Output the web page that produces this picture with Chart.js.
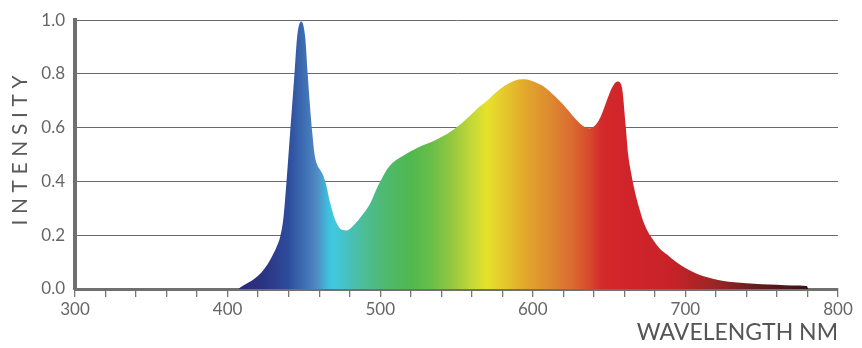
<!DOCTYPE html>
<html>
<head>
<meta charset="utf-8">
<script src="https://cdn.jsdelivr.net/npm/chart.js@4/dist/chart.umd.min.js"></script>
<style>
html,body{margin:0;padding:0;background:#fff;}
#wrap{width:862px;height:348px;position:relative;}
</style>
</head>
<body>
<div id="wrap"><canvas id="c" width="862" height="348"></canvas></div>
<script>
// Wavelength (nm) and relative intensity
const wavelengths = [407,410,414,418,422,426,429,432,434.5,436.5,438.6,441.2,443.8,445.6,448.2,450.8,452.5,454,455.5,457,458.5,460.5,462.5,464.5,467.4,471,475,478,481,487,493.6,497,500,503,506,510,515,521,528,535,541,546,552,557,563,570,576,582,588,593,597,602,608,614,620,626,631,634,637,640,643,645.5,648.9,652,655.4,657.5,658.7,660.9,662.5,664.5,667,669.6,672.5,675.1,678,683,688,694,700,706,712,718,725,732,740,750,760,770,779.5,780.5];
const intensities = [0,0.012,0.025,0.04,0.06,0.09,0.12,0.155,0.195,0.26,0.40,0.60,0.80,0.94,0.995,0.94,0.80,0.68,0.58,0.50,0.465,0.445,0.425,0.39,0.316,0.25,0.22,0.218,0.228,0.266,0.32,0.365,0.40,0.432,0.457,0.478,0.496,0.515,0.535,0.551,0.568,0.585,0.61,0.635,0.668,0.70,0.732,0.758,0.775,0.78,0.778,0.768,0.75,0.72,0.685,0.645,0.615,0.603,0.598,0.605,0.625,0.655,0.708,0.75,0.772,0.765,0.74,0.605,0.50,0.43,0.36,0.303,0.25,0.217,0.19,0.152,0.128,0.10,0.078,0.06,0.047,0.038,0.03,0.025,0.021,0.018,0.016,0.013,0.011,0];
// Spectrum colour stops (wavelength -> colour)
const stopWavelengths = [408,425,440,450,458,466,470,480,490,505,520,535,548,560,570,580,595,610,625,637,645,660,690,720,750,780];
const stopColors = ['#2a2a78','#2b3585','#2e4d9c','#3d6db3','#4f88c4','#3fc0dc','#40c8de','#48c0b8','#4dbd95','#4fb96a','#4fb84f','#6cbf48','#98c93f','#c4d836','#e6e22a','#e5cc2c','#e2a82c','#de8c30','#db6d30','#d64a2c','#d42a2a','#d0242a','#c82228','#9a2626','#5e1c1c','#3a1313'];
const xTickLabels = [300,400,500,600,700,800];
const yTickLabels = ['0.0','0.2','0.4','0.6','0.8','1.0'];
const xTitle = 'WAVELENGTH NM';
const yTitle = 'INTENSITY';

const points = wavelengths.map((w,i)=>({x:w,y:intensities[i]}));

function spectrumFill(context){
  const chart = context.chart;
  const area = chart.chartArea;
  if(!area) return 'rgba(0,0,0,0)';
  const xs = chart.scales.x;
  const x0 = xs.getPixelForValue(300), x1 = xs.getPixelForValue(800);
  const g = chart.ctx.createLinearGradient(x0,0,x1,0);
  stopWavelengths.forEach((w,i)=>g.addColorStop((w-300)/500, stopColors[i]));
  return g;
}

const yTitlePlugin = {
  id:'yTitle',
  afterDraw(chart){
    const ctx = chart.ctx;
    ctx.save();
    ctx.translate(20.5, 150.5);
    ctx.rotate(-Math.PI/2);
    ctx.font = '21px Lato';
    ctx.fillStyle = '#5a5a5a';
    ctx.textAlign = 'center';
    ctx.textBaseline = 'middle';
    ctx.letterSpacing = '5.6px';
    ctx.fillText(yTitle, 2.8, 0);
    ctx.restore();
  }
};

new Chart(document.getElementById('c'), {
  type:'line',
  data:{datasets:[{
    data:points,
    fill:'origin',
    backgroundColor:spectrumFill,
    borderColor:'rgba(0,0,0,0)',
    borderWidth:0,
    pointRadius:0,
    tension:0.4,
    cubicInterpolationMode:'monotone'
  }]},
  options:{
    responsive:false,
    devicePixelRatio:1,
    animation:false,
    layout:{padding:{top:17.5,right:24,left:0,bottom:0}},
    plugins:{legend:{display:false},tooltip:{enabled:false}},
    scales:{
      x:{
        type:'linear', min:300, max:800,
        afterFit(s){ s.height = 59; },
        ticks:{
          stepSize:20, autoSkip:false, maxRotation:0,
          padding:2,
          color:'#666',
          font:{family:'Lato', size:17},
          callback:(v)=> xTickLabels.includes(v) ? String(v) : ''
        },
        grid:{drawOnChartArea:false, drawTicks:true, tickLength:8, color:'#777', lineWidth:1.3},
        border:{display:true, color:'#707070', width:3},
        title:{display:true, text:xTitle, align:'end', color:'#555', font:{family:'Lato', size:23}, padding:{top:0,bottom:2}}
      },
      y:{
        min:0, max:1,
        afterFit(s){ s.width = 75; },
        ticks:{
          stepSize:0.2, padding:10, color:'#666',
          font:{family:'Lato', size:17},
          callback:(v)=>{ const i = Math.round(v/0.2); return yTickLabels[i]; }
        },
        grid:{drawTicks:false, color:(c)=> c.tick.value===0 ? 'rgba(0,0,0,0)' : '#6a6a6a', lineWidth:1},
        border:{display:true, color:'#707070', width:4}
      }
    }
  },
  plugins:[yTitlePlugin]
});
</script>
</body>
</html>
